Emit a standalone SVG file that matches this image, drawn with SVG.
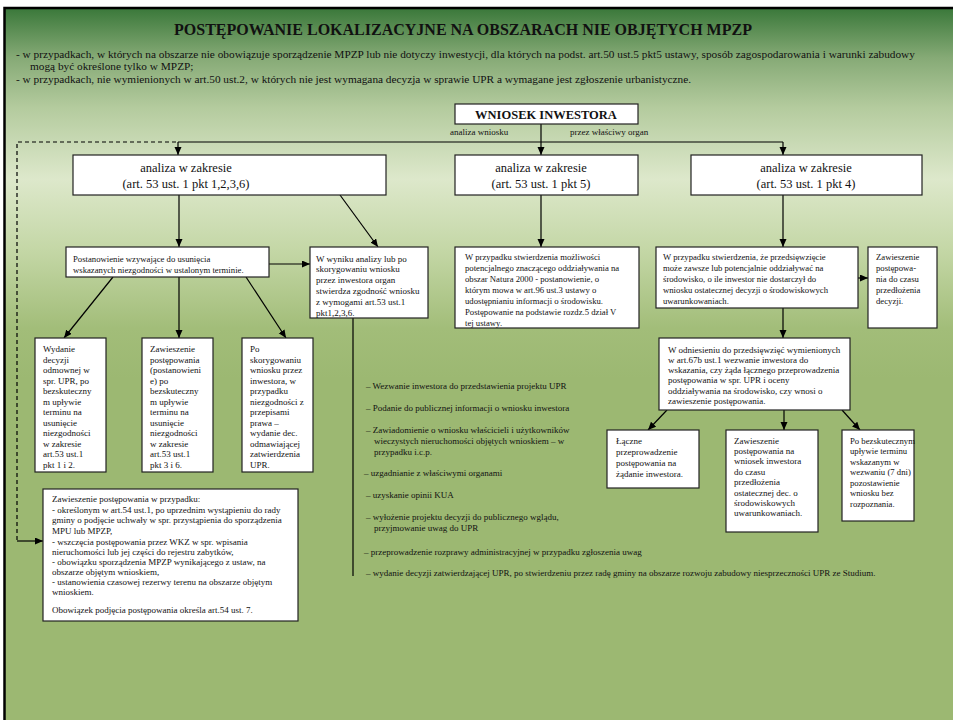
<svg xmlns="http://www.w3.org/2000/svg" width="953" height="720" viewBox="0 0 953 720">
<defs>
<linearGradient id="bg" x1="0" y1="0" x2="0" y2="1">
<stop offset="0" stop-color="#3a783a"/>
<stop offset="0.07" stop-color="#86aa76"/>
<stop offset="0.14" stop-color="#b4cb9e"/>
<stop offset="0.24" stop-color="#dde8cb"/>
<stop offset="0.34" stop-color="#c4d7a6"/>
<stop offset="0.45" stop-color="#a2bd79"/>
<stop offset="0.52" stop-color="#9cb872"/>
<stop offset="1" stop-color="#9cb872"/>
</linearGradient>
<marker id="ar" markerUnits="userSpaceOnUse" markerWidth="8" markerHeight="8" refX="8" refY="3.5" orient="auto">
<path d="M0,0 L8,3.5 L0,7 z" fill="#000"/>
</marker>
<style>
text{font-family:"Liberation Serif","Times New Roman",serif;fill:#111}
.t{font-size:9px}
.s{font-size:8.7px}
.i{font-size:11.3px}
.h{font-size:12.5px}
.b{fill:#fff;stroke:#222;stroke-width:1.2}
.c{stroke:#000;stroke-width:1.2;fill:none}
.ca{stroke:#000;stroke-width:1.2;fill:none;marker-end:url(#ar)}
</style>
</defs>
<rect x="0" y="0" width="953" height="720" fill="#fff"/>
<rect x="4" y="8" width="949" height="712" fill="url(#bg)"/>
<path d="M4.5,720 V8 H953" fill="none" stroke="#000" stroke-width="2.5"/>

<g id="header">
<text x="463" y="35" text-anchor="middle" font-size="16" font-weight="bold">POSTĘPOWANIE LOKALIZACYJNE NA OBSZARACH NIE OBJĘTYCH MPZP</text>
<text class="i" x="16" y="58">- w przypadkach, w których na obszarze nie obowiązuje sporządzenie MPZP lub nie dotyczy inwestycji, dla których na podst. art.50 ust.5 pkt5 ustawy, sposób zagospodarowania i warunki zabudowy</text>
<text class="i" x="30" y="70">mogą być określone tylko w MPZP;</text>
<text class="i" x="16" y="83">- w przypadkach, nie wymienionych w art.50 ust.2, w których nie jest wymagana decyzja w sprawie UPR a wymagane jest zgłoszenie urbanistyczne.</text>
</g>

<g id="connectors">
<line class="ca" x1="541" y1="124" x2="541" y2="155"/>
<line class="c" x1="178" y1="142" x2="783" y2="142"/>
<line class="ca" x1="178" y1="142" x2="178" y2="155"/>
<line class="ca" x1="783" y1="142" x2="783" y2="155"/>
<path d="M176,142 H17 V541" fill="none" stroke="#000" stroke-width="1.2" stroke-dasharray="4,3"/>
<line class="ca" x1="17" y1="541" x2="43" y2="541"/>
<line class="ca" x1="179" y1="195" x2="179" y2="247"/>
<line class="ca" x1="340" y1="195" x2="378" y2="247"/>
<line class="ca" x1="269" y1="264" x2="310" y2="264"/>
<line class="ca" x1="113" y1="277" x2="64" y2="338"/>
<line class="ca" x1="179" y1="277" x2="179" y2="338"/>
<line class="ca" x1="246" y1="277" x2="286" y2="338"/>
<line class="c" x1="353" y1="318" x2="353" y2="576"/>
<line class="ca" x1="541" y1="195" x2="541" y2="247"/>
<line class="ca" x1="783" y1="195" x2="783" y2="247"/>
<line class="ca" x1="858" y1="278" x2="868" y2="278"/>
<line class="ca" x1="783" y1="308" x2="783" y2="338"/>
<line class="ca" x1="667" y1="410" x2="648" y2="430"/>
<line class="ca" x1="784" y1="410" x2="784" y2="430"/>
<line class="ca" x1="842" y1="410" x2="860" y2="430"/>
<text x="450" y="135" font-size="9">analiza wniosku</text>
<text x="570" y="135" font-size="9">przez właściwy organ</text>
</g>

<g id="wniosek">
<rect class="b" x="455" y="104" width="183" height="20"/>
<text x="546" y="118.5" text-anchor="middle" font-size="12.5" font-weight="bold">WNIOSEK INWESTORA</text>
</g>

<g id="analiza1">
<rect class="b" x="73" y="155" width="313" height="40"/>
<text class="h" x="186" y="172" text-anchor="middle">analiza w zakresie</text>
<text class="h" x="186" y="188" text-anchor="middle">(art. 53 ust. 1 pkt 1,2,3,6)</text>
</g>

<g id="analiza2">
<rect class="b" x="455" y="155" width="183" height="40"/>
<text class="h" x="541" y="172" text-anchor="middle">analiza w zakresie</text>
<text class="h" x="541" y="188" text-anchor="middle">(art. 53 ust. 1 pkt 5)</text>
</g>

<g id="analiza3">
<rect class="b" x="691" y="155" width="231" height="40"/>
<text class="h" x="806" y="172" text-anchor="middle">analiza w zakresie</text>
<text class="h" x="806" y="188" text-anchor="middle">(art. 53 ust. 1 pkt 4)</text>
</g>

<g id="postanowienie">
<rect class="b" x="66" y="247" width="203" height="30"/>
<text class="s" x="73" y="262">Postanowienie wzywające do usunięcia</text>
<text class="s" x="73" y="272.5">wskazanych niezgodności w ustalonym terminie.</text>
</g>

<g id="zgodnosc">
<rect class="b" x="310" y="247" width="118" height="71"/>
<text class="t" x="316"><tspan x="316" y="261.5">W wyniku analizy lub po</tspan><tspan x="316" y="272.3">skorygowaniu wniosku</tspan><tspan x="316" y="283.1">przez inwestora organ</tspan><tspan x="316" y="293.9">stwierdza zgodność wniosku</tspan><tspan x="316" y="304.7">z wymogami art.53 ust.1</tspan><tspan x="316" y="315.5">pkt1,2,3,6.</tspan></text>
</g>

<g id="odmowa">
<rect class="b" x="35" y="338" width="71" height="134"/>
<text class="t"><tspan x="43" y="352">Wydanie</tspan><tspan x="43" y="362.5">decyzji</tspan><tspan x="43" y="373">odmownej w</tspan><tspan x="43" y="383.5">spr. UPR, po</tspan><tspan x="43" y="394">bezskuteczny</tspan><tspan x="43" y="404.5">m upływie</tspan><tspan x="43" y="415">terminu na</tspan><tspan x="43" y="425.5">usunięcie</tspan><tspan x="43" y="436">niezgodności</tspan><tspan x="43" y="446.5">w zakresie</tspan><tspan x="43" y="457">art.53 ust.1</tspan><tspan x="43" y="467.5">pkt 1 i 2.</tspan></text>
</g>

<g id="zawieszenie1">
<rect class="b" x="142" y="338" width="71" height="134"/>
<text class="t"><tspan x="150" y="352">Zawieszenie</tspan><tspan x="150" y="362.5">postępowania</tspan><tspan x="150" y="373">(postanowieni</tspan><tspan x="150" y="383.5">e) po</tspan><tspan x="150" y="394">bezskuteczny</tspan><tspan x="150" y="404.5">m upływie</tspan><tspan x="150" y="415">terminu na</tspan><tspan x="150" y="425.5">usunięcie</tspan><tspan x="150" y="436">niezgodności</tspan><tspan x="150" y="446.5">w zakresie</tspan><tspan x="150" y="457">art.53 ust.1</tspan><tspan x="150" y="467.5">pkt 3 i 6.</tspan></text>
</g>

<g id="skorygowanie">
<rect class="b" x="242" y="338" width="71" height="134"/>
<text class="t"><tspan x="250" y="352">Po</tspan><tspan x="250" y="362.5">skorygowaniu</tspan><tspan x="250" y="373">wniosku przez</tspan><tspan x="250" y="383.5">inwestora, w</tspan><tspan x="250" y="394">przypadku</tspan><tspan x="250" y="404.5">niezgodności z</tspan><tspan x="250" y="415">przepisami</tspan><tspan x="250" y="425.5">prawa –</tspan><tspan x="250" y="436">wydanie dec.</tspan><tspan x="250" y="446.5">odmawiającej</tspan><tspan x="250" y="457">zatwierdzenia</tspan><tspan x="250" y="467.5">UPR.</tspan></text>
</g>

<g id="zawieszenie-przypadki">
<rect class="b" x="43" y="489" width="255" height="132"/>
<text class="t"><tspan x="52" y="502">Zawieszenie postępowania w przypadku:</tspan><tspan x="52" y="512.5">- określonym w art.54 ust.1, po uprzednim wystąpieniu do rady</tspan><tspan x="52" y="523">gminy o podjęcie uchwały w spr. przystąpienia do sporządzenia</tspan><tspan x="52" y="533.5">MPU lub MPZP,</tspan><tspan x="52" y="544.5">- wszczęcia postępowania przez WKZ w spr. wpisania</tspan><tspan x="52" y="554.5">nieruchomości lub jej części do rejestru zabytków,</tspan><tspan x="52" y="564.5">- obowiązku sporządzenia MPZP wynikającego z ustaw, na</tspan><tspan x="52" y="575">obszarze objętym wnioskiem,</tspan><tspan x="52" y="585">- ustanowienia czasowej rezerwy terenu na obszarze objętym</tspan><tspan x="52" y="595">wnioskiem.</tspan><tspan x="52" y="613">Obowiązek podjęcia postępowania określa art.54 ust. 7.</tspan></text>
</g>

<g id="procedura">
<text class="t"><tspan x="366" y="389">– Wezwanie inwestora do przedstawienia projektu UPR</tspan><tspan x="366" y="411">– Podanie do publicznej informacji o wniosku inwestora</tspan><tspan x="366" y="433">– Zawiadomienie o wniosku właścicieli i użytkowników</tspan><tspan x="374" y="444">wieczystych nieruchomości objętych wnioskiem – w</tspan><tspan x="374" y="455">przypadku i.c.p.</tspan><tspan x="364" y="476">– uzgadnianie z właściwymi organami</tspan><tspan x="366" y="498">– uzyskanie opinii KUA</tspan><tspan x="366" y="520">– wyłożenie projektu decyzji do publicznego wglądu,</tspan><tspan x="374" y="531">przyjmowanie uwag do UPR</tspan><tspan x="364" y="555">– przeprowadzenie rozprawy administracyjnej w przypadku zgłoszenia uwag</tspan><tspan x="366" y="576">– wydanie decyzji zatwierdzającej UPR, po stwierdzeniu przez  radę gminy na obszarze rozwoju zabudowy  niesprzeczności UPR ze Studium.</tspan></text>
</g>

<g id="natura">
<rect class="b" x="455" y="247" width="184" height="81"/>
<text class="s"><tspan x="465" y="260">W przypadku stwierdzenia możliwości</tspan><tspan x="465" y="271">potencjalnego znaczącego oddziaływania na</tspan><tspan x="465" y="282">obszar Natura 2000  - postanowienie, o</tspan><tspan x="465" y="293">którym mowa w art.96 ust.3 ustawy o</tspan><tspan x="465" y="304">udostępnianiu informacji o środowisku.</tspan><tspan x="465" y="315">Postępowanie na podstawie rozdz.5 dział V</tspan><tspan x="465" y="326">tej ustawy.</tspan></text>
</g>

<g id="srodowisko">
<rect class="b" x="656" y="247" width="202" height="61"/>
<text class="s"><tspan x="663" y="260">W przypadku stwierdzenia, że przedsięwzięcie</tspan><tspan x="663" y="271">może zawsze lub potencjalnie oddziaływać na</tspan><tspan x="663" y="282">środowisko, o ile inwestor nie dostarczył do</tspan><tspan x="663" y="293">wniosku ostatecznej decyzji o środowiskowych</tspan><tspan x="663" y="304">uwarunkowaniach.</tspan></text>
</g>

<g id="zawieszenie-decyzji">
<rect class="b" x="868" y="247" width="69" height="81"/>
<text class="s"><tspan x="876" y="260">Zawieszenie</tspan><tspan x="876" y="271">postępowa-</tspan><tspan x="876" y="282">nia do czasu</tspan><tspan x="876" y="293">przedłożenia</tspan><tspan x="876" y="304">decyzji.</tspan></text>
</g>

<g id="odniesienie">
<rect class="b" x="659" y="338" width="191" height="72"/>
<text class="t"><tspan x="668" y="352.5">W odniesieniu do przedsięwzięć wymienionych</tspan><tspan x="668" y="362.8">w art.67b ust.1  wezwanie inwestora do</tspan><tspan x="668" y="373.1">wskazania, czy żąda łącznego przeprowadzenia</tspan><tspan x="668" y="383.4">postępowania w spr. UPR i oceny</tspan><tspan x="668" y="393.7">oddziaływania na środowisko, czy wnosi o</tspan><tspan x="668" y="404">zawieszenie postępowania.</tspan></text>
</g>

<g id="laczne">
<rect class="b" x="607" y="430" width="92" height="58"/>
<text class="t"><tspan x="616" y="443.5">Łączne</tspan><tspan x="616" y="454.5">przeprowadzenie</tspan><tspan x="616" y="465.5">postępowania na</tspan><tspan x="616" y="476.5">żądanie inwestora.</tspan></text>
</g>

<g id="zawieszenie-wniosek">
<rect class="b" x="726" y="430" width="92" height="102"/>
<text class="t"><tspan x="734" y="443.5">Zawieszenie</tspan><tspan x="734" y="453.9">postępowania na</tspan><tspan x="734" y="464.3">wniosek inwestora</tspan><tspan x="734" y="474.7">do czasu</tspan><tspan x="734" y="485.1">przedłożenia</tspan><tspan x="734" y="495.5">ostatecznej dec. o</tspan><tspan x="734" y="505.9">środowiskowych</tspan><tspan x="734" y="516.3">uwarunkowaniach.</tspan></text>
</g>

<g id="bezskuteczny">
<rect class="b" x="842" y="430" width="72" height="91"/>
<text class="s"><tspan x="850" y="443.5">Po bezskutecznym</tspan><tspan x="850" y="454">upływie terminu</tspan><tspan x="850" y="464.5">wskazanym w</tspan><tspan x="850" y="475">wezwaniu (7 dni)</tspan><tspan x="850" y="485.5">pozostawienie</tspan><tspan x="850" y="496">wniosku bez</tspan><tspan x="850" y="506.5">rozpoznania.</tspan></text>
</g>
</svg>
